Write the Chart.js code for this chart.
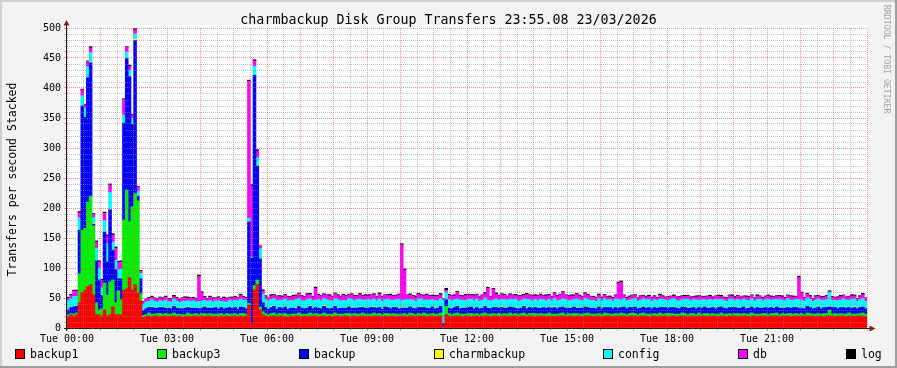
<!DOCTYPE html>
<html>
<head>
<meta charset="utf-8">
<script src="https://cdn.jsdelivr.net/npm/chart.js@4"></script>
<style>
html,body{margin:0;padding:0;background:#f2f2f2;}
canvas{display:block;}
</style>
</head>
<body>
<canvas id="c" width="897" height="368"></canvas>
<script>
// ---- Data (5-minute samples, 288 per day; rows of 12 = one hour) ----
const titleText = "charmbackup Disk Group Transfers 23:55.08 23/03/2026";
const yTitle = "Transfers per second Stacked";
const sideText = "RRDTOOL / TOBI OETIKER";
const tickLabels = ["Tue 00:00","Tue 03:00","Tue 06:00","Tue 09:00","Tue 12:00","Tue 15:00","Tue 18:00","Tue 21:00"];
const seriesNames = ["backup1","backup3","backup","charmbackup","config","db","log"];
const seriesColors = ["#ff0000","#00ee00","#0000ff","#ffff00","#00ffff","#ff00ff","#000000"];

const backup1 = [
19,22,19,22,42,59,63,69,72,55,22,22,
20,30,20,22,35,22,22,22,63,65,84,63,
72,58,45,17,19,20,19,20,20,19,20,20,
19,20,20,19,20,18,19,20,19,20,20,19,
20,19,20,20,19,20,18,20,19,20,19,20,
20,19,20,19,20,38,8,63,72,30,22,20,
19,20,20,19,20,20,19,18,20,19,20,20,
19,20,19,20,20,20,19,20,20,19,20,19,
20,20,19,20,20,19,20,20,19,20,20,19,
20,19,20,20,20,19,20,19,20,20,19,20,
20,20,19,20,20,19,20,20,20,19,20,20,
19,20,20,3,22,20,19,20,20,20,19,20,
20,19,20,20,19,20,20,20,19,20,20,19,
20,20,19,20,20,20,19,20,20,19,20,20,
19,20,20,20,19,20,20,19,20,20,20,19,
20,20,19,20,20,19,20,20,20,19,20,20,
19,20,20,20,19,20,20,20,20,19,20,20,
20,19,20,20,20,19,20,20,19,20,20,20,
19,20,20,19,20,20,20,19,20,20,19,20,
20,20,19,20,20,20,19,20,20,19,20,20,
20,19,20,20,20,19,20,20,19,20,20,20,
19,20,20,20,19,20,20,20,19,20,20,20,
20,19,20,20,20,19,20,20,19,20,20,20,
19,20,20,20,19,20,20,19,20,20,20,19];

const backup3 = [
3,2,4,3,48,104,103,141,148,115,20,8,
12,45,35,55,45,20,40,25,117,165,93,139,
152,154,12,4,3,5,4,3,4,5,3,4,
4,3,5,4,3,4,3,5,4,3,4,3,
4,5,3,4,4,3,5,4,3,4,4,3,
4,3,4,5,3,3,0,8,8,5,5,4,
3,4,5,3,4,3,5,4,3,4,3,5,
4,3,4,5,3,4,4,3,5,4,3,4,
5,3,4,3,4,5,3,4,4,3,5,4,
3,4,5,3,4,3,4,5,3,4,4,3,
3,4,3,5,4,3,4,3,5,4,3,4,
4,3,5,0,14,4,3,4,5,3,4,3,
4,5,3,4,3,4,5,3,4,4,3,5,
3,4,4,5,3,4,3,4,5,3,4,4,
5,3,4,3,4,5,3,4,3,4,5,3,
4,3,5,4,3,4,4,5,3,4,3,4,
3,5,4,3,4,4,3,5,4,3,4,5,
4,3,4,5,3,4,3,4,4,5,3,4,
5,4,3,4,3,5,4,3,4,4,3,5,
3,4,5,3,4,3,4,5,3,4,4,3,
4,5,3,4,3,4,5,3,4,3,4,4,
3,4,4,5,3,4,3,4,5,3,4,3,
4,3,5,4,3,4,4,3,5,4,10,3,
5,3,4,3,4,5,3,4,3,4,5,4];

const backup = [
8,10,12,11,73,207,185,207,222,3,70,50,
22,85,55,120,50,55,20,35,161,219,242,137,
255,8,25,8,10,9,11,10,9,10,11,9,
10,9,11,10,9,10,11,9,10,10,9,10,
9,11,10,9,10,11,9,10,10,9,11,10,
10,9,11,10,9,136,108,350,190,80,15,10,
9,10,11,9,10,10,11,9,10,10,9,11,
10,9,10,11,9,10,10,9,11,10,9,10,
11,9,10,10,9,11,10,9,10,11,9,10,
10,11,9,10,10,9,11,10,9,10,11,9,
10,9,11,10,9,10,10,11,9,10,9,11,
9,10,11,4,11,9,10,10,11,9,10,10,
10,11,9,10,10,9,11,10,9,10,11,9,
11,9,10,10,11,9,10,9,11,10,10,9,
10,10,9,11,10,9,10,11,9,10,10,11,
9,10,11,9,10,10,11,9,10,10,9,11,
10,9,10,11,9,10,10,9,11,10,10,9,
11,10,9,10,10,11,9,10,10,9,11,10,
9,10,11,10,9,10,10,11,9,10,10,9,
10,11,9,10,10,9,11,10,10,9,10,11,
10,9,10,11,9,10,10,9,11,10,9,10,
11,10,9,10,11,9,10,10,9,11,10,10,
9,10,11,10,9,10,11,9,10,10,5,11,
10,9,10,11,10,9,10,11,9,10,10,9];

const charmbackup = [
0.5,0.5,0.5,0.5,1,0,0,0,1,1,1,0,
1,1,1,1,1,1,0,1,0,0,0,0,
2,1,0,0.5,0.3,0.3,1,0.3,0.3,0.5,0.3,1.5,
0.3,0.5,0.3,1,0.3,0.3,0.5,1.5,0.3,0.3,0.5,0.3,
0.3,1,0.3,0.5,0.3,0.3,1.5,0.3,0.5,0.3,0.3,1,
0.3,0.5,0.3,0.3,1,1,0,0,2,0,0.5,0.3,
0.3,1.5,0.3,0.5,0.3,0.3,1,0.3,0.3,0.5,1.5,0.3,
0.5,0.3,0.3,1,0.3,0.5,0.3,0.3,1.5,0.3,0.5,0.3,
0.3,1,0.3,0.3,0.5,0.3,1.5,0.3,0.3,1,0.3,0.5,
0.3,0.3,1.5,0.3,0.5,0.3,0.3,1,0.3,0.3,0.5,1.5,
0.3,0.5,0.3,0.3,1,0.3,0.3,1.5,0.3,0.5,0.3,0.3,
1,0.3,0.3,0,0,0.5,1.5,0.3,0.3,0.5,0.3,1,
0.3,0.3,1.5,0.3,0.5,0.3,0.3,1,0.3,0.3,0.5,0.3,
1.5,0.3,0.3,0.5,0.3,1,0.3,0.3,0.5,1.5,0.3,0.3,
0.5,0.3,1,0.3,0.3,0.5,0.3,1.5,0.3,0.3,1,0.3,
0.3,0.5,0.3,1.5,0.3,0.3,0.5,0.3,1,0.3,0.3,0.5,
0.3,1,0.3,0.3,0.5,0.3,1.5,0.3,0.3,0.5,0.3,1,
0.5,0.3,0.3,1.5,0.3,0.5,0.3,0.3,1,0.3,0.3,0.5,
0.3,0.3,1,0.3,0.5,0.3,0.3,1.5,0.3,0.3,0.5,0.3,
1,0.3,0.3,0.5,0.3,1.5,0.3,0.3,0.5,0.3,1,0.3,
0.3,0.5,0.3,0.3,1.5,0.3,0.3,1,0.3,0.5,0.3,0.3,
0.5,0.3,1.5,0.3,0.3,0.5,0.3,1,0.3,0.3,0.5,0.3,
0.3,1,0.3,0.5,0.3,0.3,1.5,0.3,0.3,0.5,1,0.3,
0.3,0.5,0.3,1,0.3,0.3,0.5,1.5,0.3,0.3,0.5,0.3];

const config = [
15,15,17,16,20,17,16,19,16,10,20,20,
12,18,30,28,12,15,15,15,14,11,11,11,
9,7,9,10,11,10,12,11,10,11,10,12,
11,10,12,11,10,12,11,10,11,12,10,12,
11,10,11,12,10,11,12,10,11,10,12,11,
12,14,13,12,13,5,2,15,12,17,14,13,
14,12,13,14,12,13,12,14,13,12,14,13,
12,13,14,12,13,12,14,13,12,14,13,12,
13,14,12,13,12,14,13,12,14,13,12,13,
14,12,13,12,14,13,12,13,14,12,13,14,
12,13,14,12,13,12,14,13,12,13,14,12,
13,12,13,39,13,14,12,13,12,14,13,12,
14,13,12,14,12,13,14,12,13,12,14,13,
12,14,13,12,13,14,12,13,12,14,13,12,
13,12,14,13,12,13,12,14,13,12,13,14,
12,13,12,14,13,12,14,13,12,13,12,14,
13,14,12,13,12,14,13,12,14,13,12,13,
14,12,13,12,14,13,12,13,12,14,13,12,
12,13,14,12,13,12,14,13,12,13,14,12,
13,12,13,14,12,14,13,12,13,12,13,14,
12,14,12,13,13,12,14,12,13,14,12,13,
14,12,13,12,14,13,12,14,13,12,13,14,
13,12,14,13,12,13,12,14,12,13,24,12,
12,13,12,14,13,12,14,13,12,13,14,12];

const db = [
4,5,9,9,8,10,5,8,8,6,10,10,
12,12,12,12,12,20,12,12,26,8,6,5,
7,7,4,3,4,5,4,5,4,5,4,5,
4,5,4,5,4,5,6,4,5,4,5,42,
14,5,4,6,5,4,5,4,6,5,4,5,
5,4,6,5,4,228,119,9,11,4,5,5,
4,6,5,7,6,5,7,6,5,7,6,8,
7,6,8,7,6,20,7,8,6,7,8,6,
8,7,6,8,7,6,8,7,6,8,7,7,
6,8,7,6,8,7,7,6,8,7,6,8,
93,50,7,8,6,7,8,6,7,8,7,6,
7,8,6,2,3,7,8,6,11,7,6,8,
7,6,8,7,6,8,7,20,6,18,8,7,
8,7,6,8,7,6,8,7,6,8,7,8,
6,8,7,6,8,7,6,8,7,9,10,7,
8,7,6,8,7,6,8,7,6,5,6,5,
5,6,5,4,5,6,27,30,5,4,5,6,
5,4,6,5,4,5,6,5,4,6,5,4,
6,5,4,5,6,5,4,6,5,4,5,6,
5,4,6,5,4,5,6,5,4,5,6,5,
4,6,5,4,5,6,5,4,6,5,4,5,
6,5,4,5,6,5,4,5,6,5,4,37,
12,5,6,5,4,6,5,4,5,6,0,5,
4,5,6,5,4,5,6,5,4,5,6,5];

const log = [
1.5,1.5,1.5,1.5,2,1,1,1,2,1,2,2,
2,2,2,2,2,2,2,2,1,1,2,1,
2,1,1,1.5,1,1.5,2,1,1.5,1,2,1.5,
1,1.5,2,1,1.5,1,1.5,2,1,1.5,1,2,
2,1.5,1,1.5,2,1,1.5,1,2,1.5,1,1.5,
1.5,1,2,1.5,1,2,2,2,2,1,2,1.5,
1,2,1.5,1,1.5,2,1,1.5,1,2,1.5,1,
1.5,1,2,1.5,1,1.5,2,1,1.5,1,2,1.5,
1,1.5,1,2,1.5,1,1.5,2,1,1.5,1,2,
2,1,1.5,1,2,1.5,1,1.5,2,1,1.5,1,
2,2,1,1.5,1,2,1.5,1,1.5,2,1,1.5,
1.5,1,2,1,3,1.5,1,2,1.5,1,1.5,2,
1,1.5,2,1,1.5,1,2,1.5,1,1.5,2,1,
1.5,2,1,1.5,1,2,1.5,1,1.5,2,1,1.5,
2,1,1.5,1,2,1.5,1,1.5,2,1,1.5,1,
1,1.5,2,1,1.5,1,1.5,2,1,1.5,1,2,
1.5,1,1,2,1.5,1,2,2,1,1.5,2,1,
1,2,1.5,1,1.5,2,1,1.5,1,2,1.5,1,
1.5,1,2,1.5,1,1.5,2,1,1.5,1,2,1.5,
1,1.5,1,2,1.5,1,1.5,2,1,1.5,1,2,
2,1,1.5,1,2,1.5,1,1.5,2,1,1.5,1,
1.5,2,1,1.5,1,2,1.5,1,1.5,2,1,2,
1.5,1,1.5,2,1,1.5,1,2,1.5,1,2,1.5,
1,1.5,2,1,1.5,1,2,1.5,1,1.5,2,1];

const seriesValues = [backup1, backup3, backup, charmbackup, config, db, log];

// ---- build chart ----
const MONO = '"DejaVu Sans Mono", "Liberation Mono", monospace';
const gridMinor = 'rgba(143,143,143,0.5)';
const gridMajor = 'rgba(222,79,79,0.6)';

const datasets = seriesNames.map((name, k) => ({
  label: name,
  data: seriesValues[k].map((v, i) => ({x: i + 0.5, y: v})),
  backgroundColor: seriesColors[k],
  borderWidth: 0,
  barPercentage: 1,
  categoryPercentage: 1,
  inflateAmount: 0.4,
  stack: 's'
}));

const decor = {
  id: 'decor',
  beforeDraw(chart) {
    const c = chart.ctx, W = chart.width, H = chart.height, a = chart.chartArea;
    c.save();
    c.fillStyle = '#f2f2f2'; c.fillRect(0, 0, W, H);
    c.fillStyle = '#cfcfcf'; c.fillRect(0, 0, W, 2); c.fillRect(0, 0, 2, H);
    c.fillStyle = '#9e9e9e'; c.fillRect(0, H - 2, W, 2); c.fillRect(W - 2, 0, 2, H);
    c.fillStyle = '#ffffff'; c.fillRect(a.left, a.top - 3, a.right - a.left + 1, a.bottom - a.top + 3);
    c.restore();
  },
  afterDraw(chart) {
    const c = chart.ctx, a = chart.chartArea;
    c.save();
    // axes
    c.strokeStyle = '#1f1f1f'; c.lineWidth = 1;
    c.beginPath(); c.moveTo(a.left - 3, a.bottom + 0.5); c.lineTo(a.right + 3, a.bottom + 0.5); c.stroke();
    c.beginPath(); c.moveTo(a.left - 0.5, a.bottom + 3); c.lineTo(a.left - 0.5, a.top - 4); c.stroke();
    // arrows
    c.fillStyle = '#801f1f';
    c.beginPath(); c.moveTo(a.left - 0.5, a.top - 8); c.lineTo(a.left - 3.5, a.top - 2.5); c.lineTo(a.left + 2.5, a.top - 2.5); c.closePath(); c.fill();
    c.beginPath(); c.moveTo(a.right + 8.5, a.bottom + 0.5); c.lineTo(a.right + 2.5, a.bottom - 2.5); c.lineTo(a.right + 2.5, a.bottom + 3.5); c.closePath(); c.fill();
    // title
    c.fillStyle = '#000';
    c.font = '13.3px ' + MONO; c.textAlign = 'center'; c.textBaseline = 'alphabetic';
    c.fillText(titleText, 448.5, 23.5);
    // y title
    c.save(); c.translate(15.5, 179.5); c.rotate(-Math.PI / 2);
    c.font = '11.5px ' + MONO; c.textAlign = 'center'; c.fillText(yTitle, 0, 0); c.restore();
    // side text
    c.save(); c.translate(884, 5); c.rotate(Math.PI / 2);
    c.font = '8.2px ' + MONO; c.fillStyle = '#a4a4a4'; c.textAlign = 'left'; c.fillText(sideText, 0, 0); c.restore();
    // legend
    const lx = [15, 157, 299, 434, 603, 738, 846];
    c.font = '11.5px ' + MONO; c.textAlign = 'left';
    seriesNames.forEach((n, k) => {
      c.fillStyle = seriesColors[k];
      c.fillRect(lx[k] + 0.5, 349.5, 9, 9);
      c.strokeStyle = '#000'; c.lineWidth = 1;
      c.strokeRect(lx[k] + 0.5, 349.5, 9, 9);
      c.fillStyle = '#000';
      c.fillText(n, lx[k] + 15, 358);
    });
    c.restore();
  }
};

new Chart(document.getElementById('c'), {
  type: 'bar',
  data: { datasets },
  plugins: [decor],
  options: {
    responsive: false,
    animation: false,
    devicePixelRatio: 1,
    events: [],
    layout: { padding: { top: 28, right: 30, left: 0, bottom: 0 } },
    plugins: { legend: { display: false }, tooltip: { enabled: false }, title: { display: false } },
    scales: {
      x: {
        type: 'linear', min: 0, max: 288, offset: false, stacked: true,
        afterFit(s) { s.height = 40; },
        grid: {
          offset: false, z: 1, lineWidth: 1, drawTicks: true, tickLength: 3,
          color: (ctx) => (ctx.tick && ctx.tick.value % 12 === 0) ? gridMajor : gridMinor
        },
        border: { display: false, dash: [1, 1] },
        ticks: {
          stepSize: 6, autoSkip: false, maxRotation: 0, minRotation: 0, padding: 2,
          color: '#000', font: { family: MONO, size: 10 },
          callback: (v) => (v % 36 === 0 && tickLabels[v / 36] !== undefined) ? tickLabels[v / 36] : ''
        }
      },
      y: {
        min: 0, max: 500, stacked: true,
        afterFit(s) { s.width = 67; },
        grid: {
          z: 1, lineWidth: 1, drawTicks: true, tickLength: 3,
          color: (ctx) => (ctx.tick && ctx.tick.value % 50 === 0) ? gridMajor : gridMinor
        },
        border: { display: false, dash: [1, 1] },
        ticks: {
          stepSize: 10, autoSkip: false, padding: 3,
          color: '#000', font: { family: MONO, size: 10 },
          callback: (v) => (v % 50 === 0) ? String(v) : ''
        }
      }
    }
  }
});
</script>
</body>
</html>
